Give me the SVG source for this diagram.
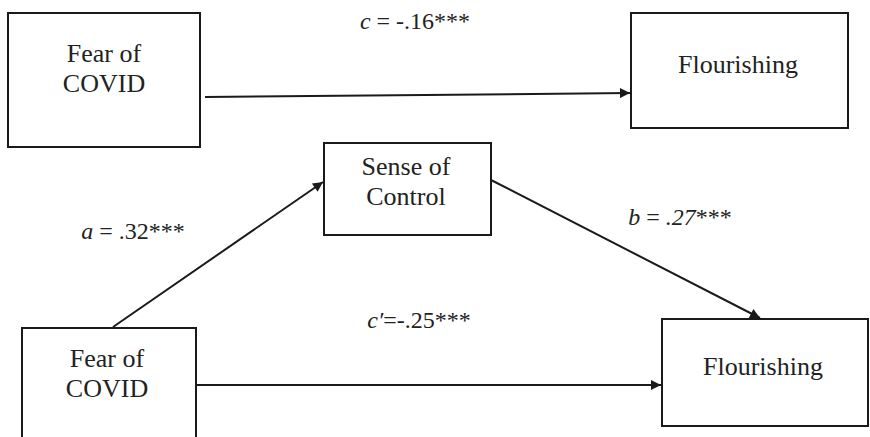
<svg xmlns="http://www.w3.org/2000/svg" width="870" height="437" viewBox="0 0 870 437">
<style>
.box{fill:#fff;stroke:#1a1a1a;stroke-width:2}
.t{font-family:'Liberation Serif','DejaVu Serif',serif;font-size:26px;fill:#222;text-anchor:middle}
.l{font-family:'Liberation Serif','DejaVu Serif',serif;font-size:24px;fill:#222;text-anchor:middle}
.e{stroke:#1a1a1a;stroke-width:2;fill:none;marker-end:url(#ah)}
</style>
<defs>
<marker id="ah" viewBox="0 0 10 10" refX="10" refY="5" markerWidth="12" markerHeight="10" markerUnits="userSpaceOnUse" orient="auto">
<path d="M0,0 L10,5 L0,10 z" fill="#1a1a1a"/>
</marker>
</defs>
<g id="connectors">
<line class="e" x1="205" y1="97" x2="630" y2="93"/>
<line class="e" x1="113" y1="327" x2="323" y2="182"/>
<line class="e" x1="491" y1="180" x2="760" y2="318"/>
<line class="e" x1="196" y1="385" x2="661" y2="385"/>
</g>
<g id="fear1">
<rect class="box" x="8" y="13" width="192" height="134"/>
<text class="t" x="104" y="62">Fear of</text>
<text class="t" x="104" y="92">COVID</text>
</g>
<g id="flour1">
<rect class="box" x="631" y="13" width="217" height="115"/>
<text class="t" x="738" y="73">Flourishing</text>
</g>
<g id="control">
<rect class="box" x="324" y="143" width="167" height="92"/>
<text class="t" x="406" y="175">Sense of</text>
<text class="t" x="406" y="205">Control</text>
</g>
<g id="fear2">
<rect class="box" x="22" y="328" width="174" height="120"/>
<text class="t" x="107" y="367">Fear of</text>
<text class="t" x="107" y="397">COVID</text>
</g>
<g id="flour2">
<rect class="box" x="662" y="319" width="206" height="107"/>
<text class="t" x="763" y="375">Flourishing</text>
</g>
<g id="labels">
<text class="l" x="415" y="29"><tspan font-style="italic">c</tspan> = -.16***</text>
<text class="l" x="133" y="239"><tspan font-style="italic">a</tspan> = .32***</text>
<text class="l" x="680" y="225"><tspan font-style="italic">b</tspan> = <tspan font-style="italic">.27</tspan>***</text>
<text class="l" x="419" y="328"><tspan font-style="italic">c′</tspan>=-.25***</text>
</g>
</svg>
